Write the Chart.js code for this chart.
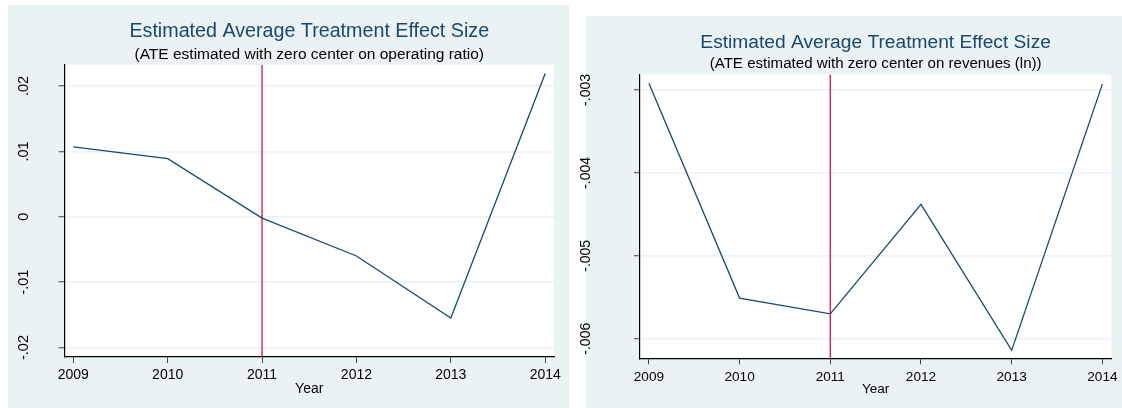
<!DOCTYPE html>
<html>
<head>
<meta charset="utf-8">
<script src="https://cdn.jsdelivr.net/npm/chart.js@4.4.1/dist/chart.umd.min.js"></script>
<style>
  html, body { margin: 0; padding: 0; background: #fff; overflow: hidden; }
  #wrap { position: relative; width: 1122px; height: 408px; }
  .panel { position: absolute; background: #eaf2f3; }
  canvas { position: absolute; top: 0; }
</style>
</head>
<body>
<div id="wrap">
  <div class="panel" style="left:8px;top:5px;width:561px;height:403px"></div>
  <div class="panel" style="left:586px;top:16px;width:536px;height:392px"></div>
  <canvas id="left" width="569" height="408" style="left:0"></canvas>
  <canvas id="right" width="553" height="408" style="left:569px"></canvas>
</div>
<script>
// Data
const years = [2009, 2010, 2011, 2012, 2013, 2014];
const ateOperatingRatio = [0.0107, 0.0089, -0.0002, -0.0060, -0.0155, 0.0219];
const ateRevenues = [-0.00292, -0.00551, -0.00570, -0.00438, -0.00614, -0.00293];
const treatmentYear = 2011;

// Tick values and labels
const leftYTicks = [-0.02, -0.01, 0, 0.01, 0.02];
const leftYLabels = ["-.02", "-.01", "0", ".01", ".02"];
const rightYTicks = [-0.006, -0.005, -0.004, -0.003];
const rightYLabels = ["-.006", "-.005", "-.004", "-.003"];

const titleText = "Estimated Average Treatment Effect Size";
const leftSubtitle = "(ATE estimated with zero center on operating ratio)";
const rightSubtitle = "(ATE estimated with zero center on revenues (ln))";
const xTitle = "Year";

const FONT = "'Liberation Sans', Arial, sans-serif";
const NAVY = "#1a476f";
const RED = "#d2143c";

// white plot region
const plotBackground = {
  id: "plotBackground",
  beforeDraw(chart) {
    const a = chart.chartArea;
    chart.ctx.save();
    chart.ctx.fillStyle = "#fff";
    chart.ctx.fillRect(a.left, a.top, a.right - a.left, a.bottom - a.top);
    chart.ctx.restore();
  }
};

// vertical y tick labels, Stata style
function yLabelsPlugin(ticks, labels, x, size) {
  return {
    id: "yLabels",
    afterDraw(chart) {
      const ctx = chart.ctx;
      const sc = chart.scales.y;
      ctx.save();
      ctx.fillStyle = "#000";
      ctx.font = size + "px " + FONT;
      ctx.textAlign = "center";
      ctx.textBaseline = "middle";
      ticks.forEach((v, i) => {
        ctx.save();
        ctx.translate(x, sc.getPixelForValue(v));
        ctx.rotate(-Math.PI / 2);
        ctx.fillText(labels[i], 0, 0);
        ctx.restore();
      });
      ctx.restore();
    }
  };
}

function makeChart(id, values, yTicks, yLabels, subtitle, s) {
  return new Chart(document.getElementById(id), {
    type: "line",
    data: {
      datasets: [
        {
          data: years.map((yr, i) => ({ x: yr, y: values[i] })),
          borderColor: NAVY, borderWidth: 1.3, pointRadius: 0, tension: 0
        },
        {
          data: [{ x: treatmentYear, y: s.yMin }, { x: treatmentYear, y: s.yMax }],
          borderColor: RED, borderWidth: 1.3, pointRadius: 0
        }
      ]
    },
    options: {
      responsive: false,
      animation: false,
      devicePixelRatio: 1,
      layout: { autoPadding: false, padding: { left: 0, top: 0, right: s.padRight, bottom: 0 } },
      plugins: {
        legend: { display: false },
        tooltip: { enabled: false },
        title: {
          display: true, text: titleText, fullSize: false, color: NAVY,
          font: { family: FONT, size: s.titleSize, weight: "normal", lineHeight: 1.2 },
          padding: { top: s.titlePad, bottom: 0 }
        },
        subtitle: {
          display: true, text: subtitle, fullSize: false, color: "#000",
          font: { family: FONT, size: s.subSize, weight: "normal", lineHeight: 1.2 },
          padding: { top: s.subPadTop, bottom: s.subPadBottom }
        }
      },
      scales: {
        x: {
          type: "linear",
          min: years[0] - s.xPad,
          max: years[years.length - 1] + s.xPad,
          afterBuildTicks: sc => { sc.ticks = years.map(v => ({ value: v })); },
          afterFit: sc => { sc.height = s.xAxisHeight; },
          grid: { drawOnChartArea: false, drawTicks: true, tickLength: 6, tickColor: "#444", tickWidth: 1 },
          border: { color: "#000", width: 1.2 },
          ticks: {
            color: "#000", font: { family: FONT, size: s.tickSize }, padding: s.tickPad,
            maxRotation: 0, minRotation: 0, autoSkip: false, callback: v => String(v)
          },
          title: {
            display: true, text: xTitle, color: "#000",
            font: { family: FONT, size: s.tickSize, lineHeight: 1.2 },
            padding: { top: 0, bottom: s.yearPad }
          }
        },
        y: {
          type: "linear",
          min: s.yMin,
          max: s.yMax,
          afterBuildTicks: sc => { sc.ticks = yTicks.map(v => ({ value: v })); },
          afterFit: sc => { sc.width = s.yAxisWidth; },
          grid: { color: "#eaf2f3", lineWidth: 1.5, tickLength: 6, tickColor: "#444", tickWidth: 1 },
          border: { color: "#000", width: 1.2 },
          ticks: { display: false }
        }
      }
    },
    plugins: [plotBackground, yLabelsPlugin(yTicks, yLabels, s.yLabelX, s.yLabelSize)]
  });
}

makeChart("left", ateOperatingRatio, leftYTicks, leftYLabels, leftSubtitle, {
  yMin: -0.02145, yMax: 0.02321, xPad: 0.093,
  yAxisWidth: 64.5, xAxisHeight: 51, padRight: 15,
  titleSize: 19.7, titlePad: 20, subSize: 15.5, subPadTop: 1.4, subPadBottom: 1.4,
  tickSize: 14, tickPad: 3.4, yearPad: 10.5, yLabelX: 24, yLabelSize: 14.5
});

makeChart("right", ateRevenues, rightYTicks, rightYLabels, rightSubtitle, {
  yMin: -0.006236, yMax: -0.002813, xPad: 0.098,
  yAxisWidth: 71, xAxisHeight: 49.7, padRight: 5,
  titleSize: 19.2, titlePad: 31.2, subSize: 15.1, subPadTop: 1.0, subPadBottom: 1.1,
  tickSize: 13.6, tickPad: 4.3, yearPad: 10.5, yLabelX: 17.5, yLabelSize: 14
});
</script>
</body>
</html>
